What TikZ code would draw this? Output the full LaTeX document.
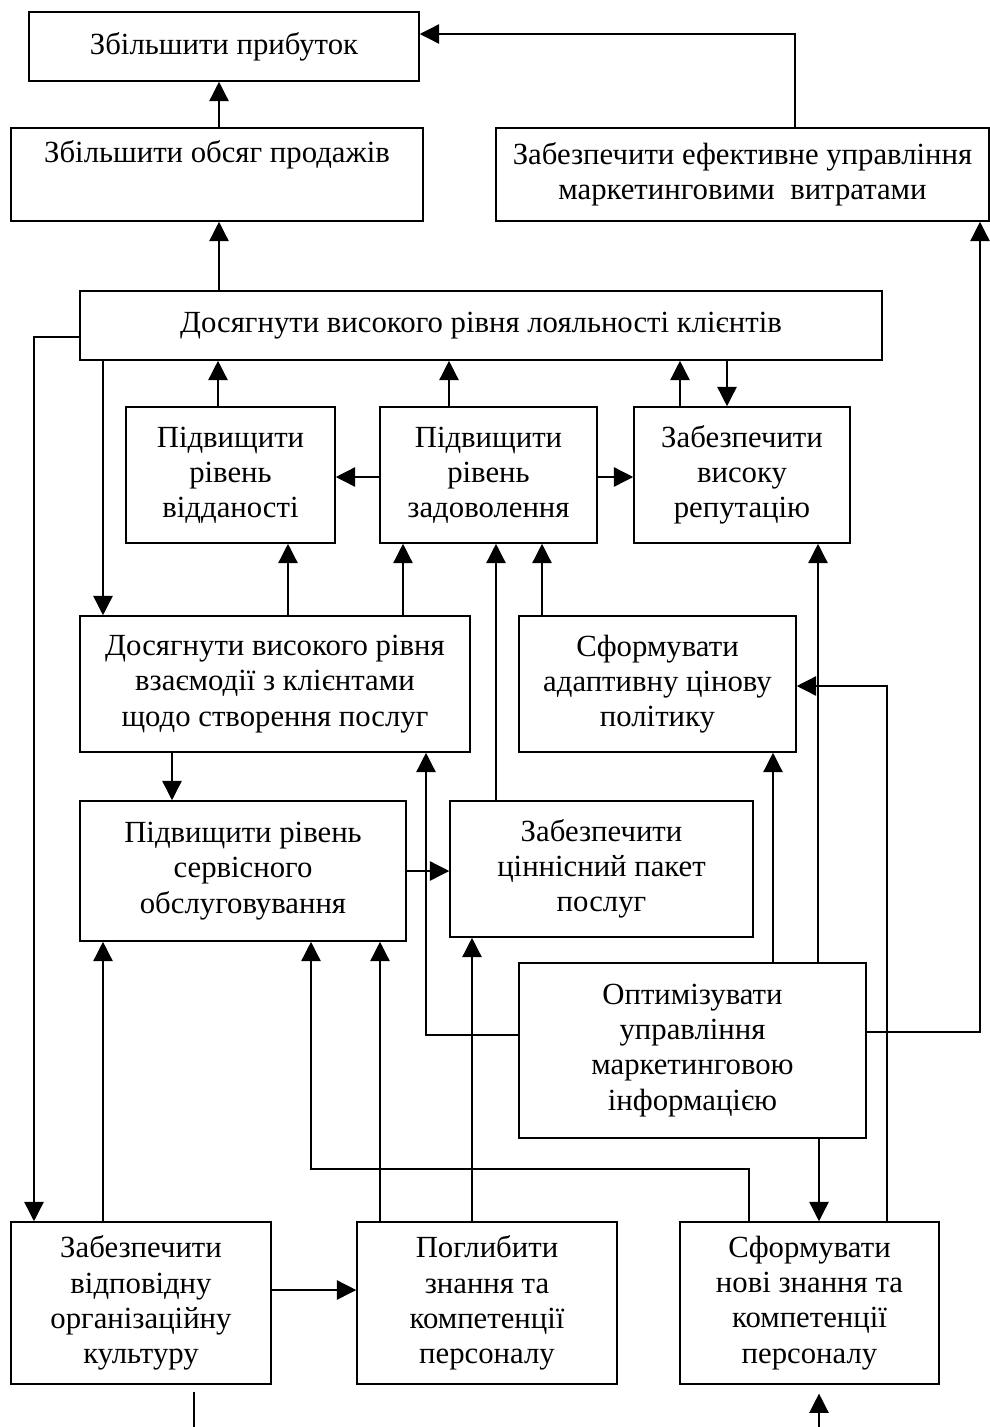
\documentclass[tikz,border=0pt]{standalone}
\usepackage{fontspec}
\setmainfont{Liberation Serif}
\usepackage{tikz}
\usetikzlibrary{arrows.meta}

\begin{document}
\begin{tikzpicture}[x=0.02cm, y=-0.02cm, >={Triangle[length=11pt, width=11pt]},
  blok/.style={draw, line width=0.9pt, align=center, inner sep=2pt, font=\fontsize{17.5}{20}\selectfont},
  zv/.style={line width=0.8pt}]
  \useasboundingbox (0,0) rectangle (990,1427);

  % Верхні цілі
  \node[blok, minimum width=7.8cm, minimum height=1.38cm] (prib) at (224,46.5) {Збільшити прибуток};
  \node[blok, minimum width=8.24cm, minimum height=1.86cm] (obsyag) at (217,174.5) {Збільшити обсяг продажів\\ \strut};
  \node[blok, minimum width=9.86cm, minimum height=1.86cm] (vytraty) at (742.5,174.5) {Забезпечити ефективне управління\\маркетинговими \ витратами};
  \node[blok, minimum width=16.04cm, minimum height=1.38cm] (loyal) at (481,325.5) {Досягнути високого рівня лояльності клієнтів};

  % Клієнтська складова
  \node[blok, minimum width=4.18cm, minimum height=2.72cm] (viddan) at (230.5,475) {Підвищити\\рівень\\відданості};
  \node[blok, minimum width=4.34cm, minimum height=2.72cm] (zadov) at (488.5,475) {Підвищити\\рівень\\задоволення};
  \node[blok, minimum width=4.32cm, minimum height=2.72cm] (reput) at (742,475) {Забезпечити\\високу\\репутацію};

  % Внутрішні процеси
  \node[blok, minimum width=7.8cm, minimum height=2.72cm] (vzaiem) at (275,684) {Досягнути високого рівня\\взаємодії з клієнтами\\щодо створення послуг};
  \node[blok, minimum width=5.54cm, minimum height=2.72cm] (tsin) at (657.5,684) {Сформувати\\адаптивну цінову\\політику};
  \node[blok, minimum width=6.52cm, minimum height=2.8cm] (servis) at (243,871) {Підвищити рівень\\сервісного\\обслуговування};
  \node[blok, minimum width=6.06cm, minimum height=2.72cm] (paket) at (601.5,869) {Забезпечити\\ціннісний пакет\\послуг};
  \node[blok, minimum width=6.94cm, minimum height=3.5cm] (inform) at (692.5,1050.5) {Оптимізувати\\управління\\маркетинговою\\інформацією};

  % Навчання і розвиток
  \node[blok, minimum width=5.2cm, minimum height=3.24cm] (kult) at (141,1303) {Забезпечити\\відповідну\\організаційну\\культуру};
  \node[blok, minimum width=5.2cm, minimum height=3.24cm] (pohl) at (487,1303) {Поглибити\\знання та\\компетенції\\персоналу};
  \node[blok, minimum width=5.18cm, minimum height=3.24cm] (novi) at (809.5,1303) {Сформувати\\нові знання та\\компетенції\\персоналу};

  \coordinate (kultout) at (194,1427);
  \coordinate (noviin) at (819,1427);

  % Зв'язки вгору
  \draw[zv, ->] (obsyag.north -| 219,0) -- (prib.south -| 219,0);
  \draw[zv, ->] (loyal.north -| 219,0) -- (obsyag.south -| 219,0);
  \draw[zv, ->] (vytraty.north -| 795,0) |- (prib.east |- 0,34);
  \draw[zv, ->] (viddan.north -| 218,0) -- (loyal.south -| 218,0);
  \draw[zv, ->] (zadov.north -| 449,0) -- (loyal.south -| 449,0);
  \draw[zv, ->] (reput.north -| 680,0) -- (loyal.south -| 680,0);
  \draw[zv, ->] (loyal.south -| 727,0) -- (reput.north -| 727,0);
  \draw[zv, ->] (zadov.west |- 0,477) -- (viddan.east |- 0,477);
  \draw[zv, ->] (zadov.east |- 0,477) -- (reput.west |- 0,477);

  % Лояльність вниз
  \draw[zv, ->] (loyal.west |- 0,337) -| (kult.north -| 34,0);
  \draw[zv, ->] (loyal.south -| 103,0) -- (vzaiem.north -| 103,0);

  % Процеси
  \draw[zv, ->] (vzaiem.north -| 288,0) -- (viddan.south -| 288,0);
  \draw[zv, ->] (vzaiem.north -| 403,0) -- (zadov.south -| 403,0);
  \draw[zv, ->] (paket.north -| 496,0) -- (zadov.south -| 496,0);
  \draw[zv, ->] (tsin.north -| 542,0) -- (zadov.south -| 542,0);
  \draw[zv, ->] (vzaiem.south -| 172,0) -- (servis.north -| 172,0);
  \draw[zv, ->] (servis.east |- 0,871) -- (paket.west |- 0,871);

  % Інформація
  \draw[zv, ->] (inform.north -| 773,0) -- (tsin.south -| 773,0);
  \draw[zv, ->] (inform.north -| 818,0) -- (reput.south -| 818,0);
  \draw[zv, ->] (inform.west |- 0,1035) -| (vzaiem.south -| 426,0);
  \draw[zv, ->] (inform.east |- 0,1032) -| (vytraty.south -| 980,0);
  \draw[zv, ->] (inform.south -| 819,0) -- (novi.north -| 819,0);

  % Персонал
  \draw[zv, ->] (novi.north -| 887,0) |- (tsin.east |- 0,686);
  \draw[zv, ->] (novi.north -| 749,0) |- (311,1169) -- (servis.south -| 311,0);
  \draw[zv, ->] (pohl.north -| 380,0) -- (servis.south -| 380,0);
  \draw[zv, ->] (pohl.north -| 472,0) -- (paket.south -| 472,0);
  \draw[zv, ->] (kult.north -| 103,0) -- (servis.south -| 103,0);
  \draw[zv, ->] (kult.east |- 0,1290) -- (pohl.west |- 0,1290);
  \draw[zv, shorten <=4pt] (kult.south -| 194,0) -- (kultout);
  \draw[zv, ->, shorten >=5pt] (noviin) -- (novi.south -| 819,0);
\end{tikzpicture}
\end{document}
